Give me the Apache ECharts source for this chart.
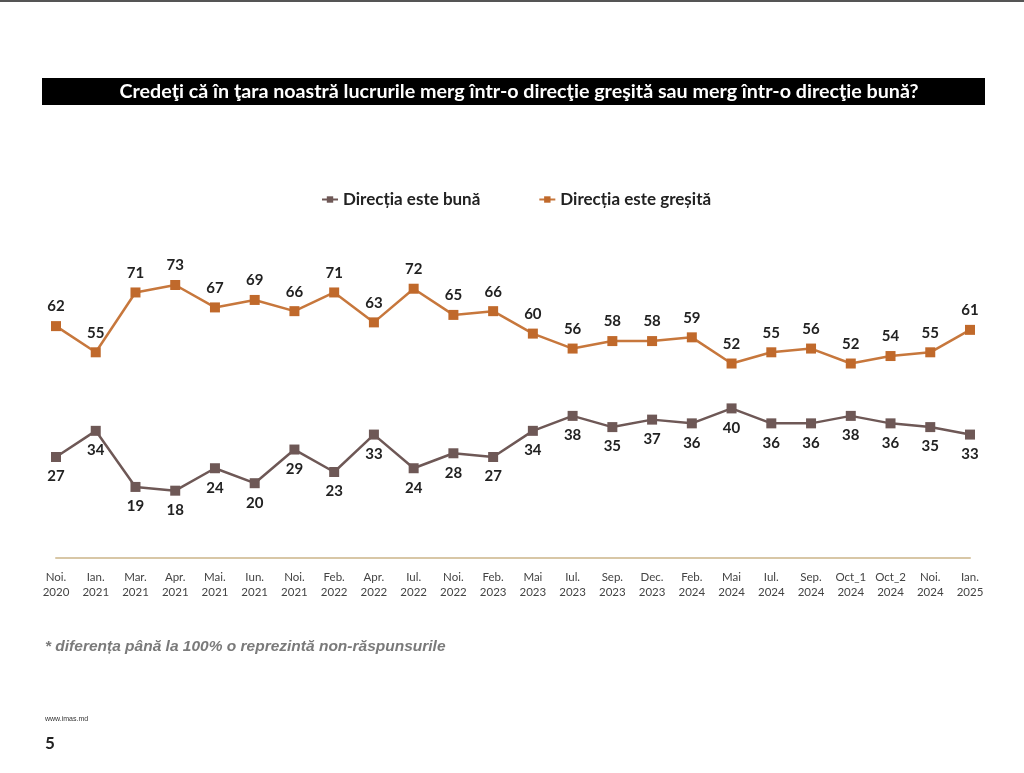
<!DOCTYPE html>
<html><head><meta charset="utf-8">
<script src="https://cdn.jsdelivr.net/npm/echarts@6/dist/echarts.min.js"></script>
<style>html,body{margin:0;padding:0;background:#fff;}#c{width:1024px;height:773px;}</style>
</head><body><div id="c"></div>
<script>
const categories = ["Noi.\n2020","Ian.\n2021","Mar.\n2021","Apr.\n2021","Mai.\n2021","Iun.\n2021","Noi.\n2021","Feb.\n2022","Apr.\n2022","Iul.\n2022","Noi.\n2022","Feb.\n2023","Mai\n2023","Iul.\n2023","Sep.\n2023","Dec.\n2023","Feb.\n2024","Mai\n2024","Iul.\n2024","Sep.\n2024","Oct_1\n2024","Oct_2\n2024","Noi.\n2024","Ian.\n2025"];
const buna = [27,34,19,18,24,20,29,23,33,24,28,27,34,38,35,37,36,40,36,36,38,36,35,33];
const gresita = [62,55,71,73,67,69,66,71,63,72,65,66,60,56,58,58,59,52,55,56,52,54,55,61];
const seriesNames = ["Direcția este bună","Direcția este greșită"];
const titleText = "Credeţi că în ţara noastră lucrurile merg într-o direcţie greşită sau merg într-o direcţie bună?";
const footnote = "* diferența până la 100% o reprezintă non-răspunsurile";

const chart = echarts.init(document.getElementById('c'), null, {renderer:'canvas'});
const FONT = 'Lato';
chart.setOption({
  backgroundColor:'#fff',
  animation:false,
  graphic:[
    {type:'rect', shape:{x:0,y:0,width:1024,height:2}, style:{fill:'#555'}, z:-1},
    {type:'rect', shape:{x:42,y:78,width:943,height:27}, style:{fill:'#000'}, z:-1},
    {type:'text', x:519, y:92, style:{text:titleText, fill:'#fff', font:'bold 19.7px Lato', textAlign:'center', textVerticalAlign:'middle'}},
    {type:'text', x:45, y:647, style:{text:footnote, fill:'#7a7a7a', font:'italic bold 15.5px "Liberation Sans"', textVerticalAlign:'middle'}},
    {type:'text', x:45, y:719, style:{text:'www.imas.md', fill:'#333', font:'7px "Liberation Sans"', textVerticalAlign:'middle'}},
    {type:'text', x:45, y:744, style:{text:'5', fill:'#222', font:'bold 17px Lato', textVerticalAlign:'middle'}}
  ],
  legend:{top:186, left:316, itemGap:58, itemWidth:16, itemHeight:8,
    textStyle:{fontFamily:FONT, fontWeight:'bold', fontSize:17, color:'#222'},
    data:seriesNames},
  grid:{left:56, right:54, top:184, bottom:215},
  xAxis:{type:'category', boundaryGap:false, data:categories,
    axisLine:{show:true, lineStyle:{color:'#d8c7a6', width:2}},
    axisTick:{show:false},
    axisLabel:{interval:0, fontFamily:FONT, fontSize:11.5, color:'#444', lineHeight:15, margin:12}},
  yAxis:{type:'value', min:0, max:100, show:false, splitLine:{show:false}},
  series:[
    {name:seriesNames[0], type:'line', data:buna, color:'#6e5856',
      symbol:'rect', symbolSize:10, lineStyle:{width:2.5, color:'#6e5856'},
      itemStyle:{color:'#6e5856'},
      label:{show:true, position:'bottom', distance:7, fontFamily:FONT, fontWeight:'bold', fontSize:15, color:'#222'}},
    {name:seriesNames[1], type:'line', data:gresita, color:'#c0692b',
      symbol:'rect', symbolSize:10, lineStyle:{width:2.5, color:'#c7773c'},
      itemStyle:{color:'#c0692b'},
      label:{show:true, position:'top', distance:7, fontFamily:FONT, fontWeight:'bold', fontSize:15, color:'#222'}}
  ]
});
</script></body></html>
